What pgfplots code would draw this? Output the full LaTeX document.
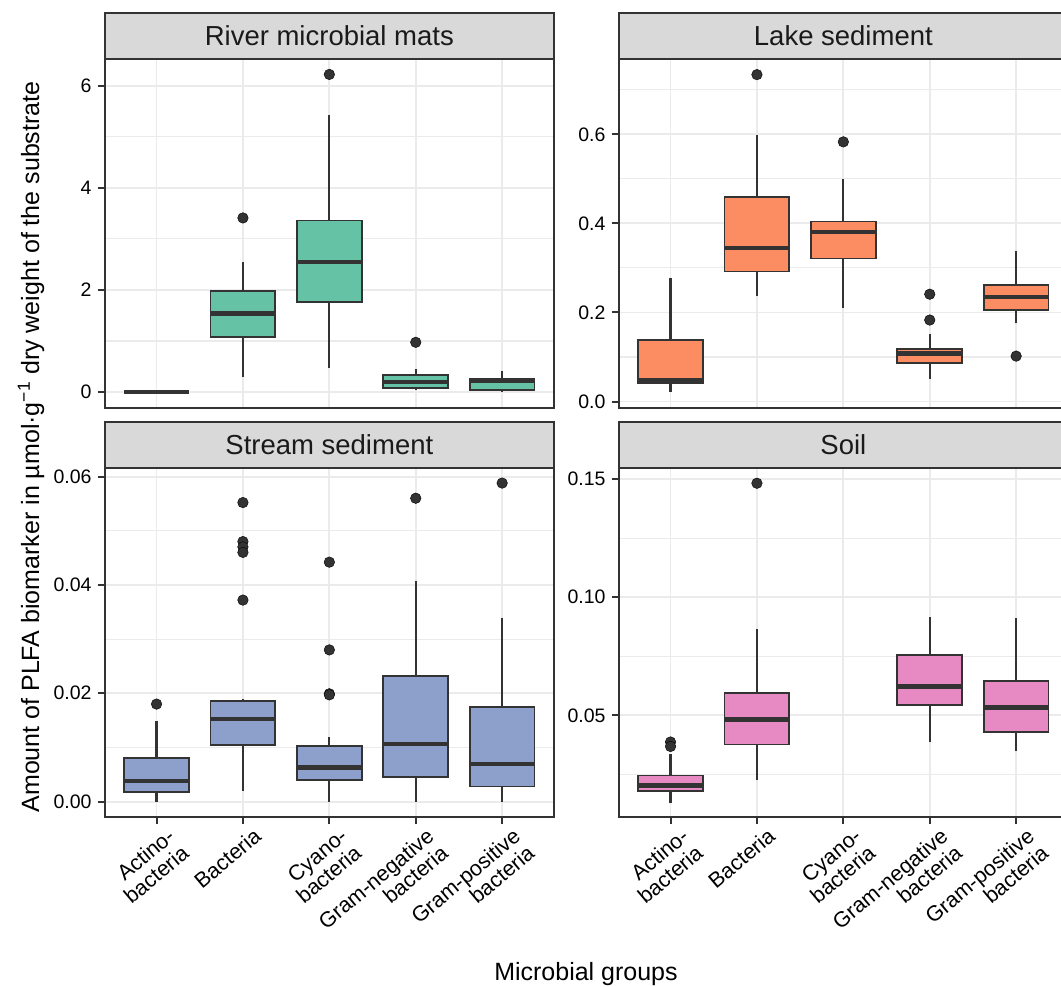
\documentclass[border=0pt]{standalone}
\usepackage{fontspec}
\setmainfont{Liberation Sans}
\usepackage{pgfplots}
\usepackage{pgfplotstable}
\pgfplotsset{compat=1.18}

\definecolor{sgreen}{HTML}{66C2A5}
\definecolor{sorange}{HTML}{FC8D62}
\definecolor{sblue}{HTML}{8DA0CB}
\definecolor{spink}{HTML}{E78AC3}
\definecolor{grey20}{HTML}{333333}
\definecolor{grey10}{HTML}{1A1A1A}
\definecolor{grey85}{HTML}{D9D9D9}
\definecolor{grey92}{HTML}{EBEBEB}

% box statistics: lower whisker, lower quartile, median, upper quartile, upper whisker
\pgfplotstableread{
pos lw lq med uq uw
1 0 0 0 0 0
2 0.29 1.08 1.54 1.98 2.54
3 0.47 1.77 2.54 3.36 5.42
4 0.045 0.078 0.195 0.34 0.455
5 0 0.045 0.225 0.254 0.41
}\river
\pgfplotstableread{
x y
2 3.41
3 6.22
4 0.975
}\riverout

\pgfplotstableread{
pos lw lq med uq uw
1 0.021 0.042 0.049 0.139 0.277
2 0.236 0.292 0.345 0.460 0.599
3 0.211 0.321 0.380 0.404 0.500
4 0.051 0.087 0.108 0.118 0.152
5 0.176 0.205 0.235 0.262 0.338
}\lake
\pgfplotstableread{
x y
2 0.734
3 0.583
4 0.241
4 0.183
5 0.102
}\lakeout

\pgfplotstableread{
pos lw lq med uq uw
1 0 0.0018 0.0038 0.0080 0.0148
2 0.0020 0.0104 0.0152 0.0185 0.0189
3 0 0.0040 0.0063 0.0102 0.0120
4 0 0.0046 0.0106 0.0232 0.0407
5 0 0.0028 0.0069 0.0174 0.0339
}\stream
\pgfplotstableread{
x y
1 0.0180
2 0.0552
2 0.0480
2 0.0470
2 0.0460
2 0.0372
3 0.0442
3 0.0280
3 0.0199
3 0.0197
4 0.0560
5 0.0588
}\streamout

\pgfplotstableread{
pos lw lq med uq uw
1 0.0128 0.0178 0.0203 0.0245 0.0337
2 0.0227 0.0376 0.0482 0.0596 0.0865
4 0.0387 0.0542 0.0622 0.0757 0.0917
5 0.0349 0.0429 0.0533 0.0644 0.0914
}\soil
\pgfplotstableread{
x y
1 0.0387
1 0.0368
2 0.1483
}\soilout

% table, row, colour : whiskers, box (width 0.75), median
\newcommand{\bxp}[3]{%
  \pgfplotstablegetelem{#2}{pos}\of{#1}\let\vpos\pgfplotsretval
  \pgfplotstablegetelem{#2}{lw}\of{#1}\let\vlw\pgfplotsretval
  \pgfplotstablegetelem{#2}{lq}\of{#1}\let\vlq\pgfplotsretval
  \pgfplotstablegetelem{#2}{med}\of{#1}\let\vmed\pgfplotsretval
  \pgfplotstablegetelem{#2}{uq}\of{#1}\let\vuq\pgfplotsretval
  \pgfplotstablegetelem{#2}{uw}\of{#1}\let\vuw\pgfplotsretval
  \pgfmathsetmacro\vxl{\vpos-0.375}%
  \pgfmathsetmacro\vxr{\vpos+0.375}%
  \edef\tmpplot{%
    \noexpand\addplot[draw=grey20, line width=2.2pt]
      coordinates {(\vpos,\vlw) (\vpos,\vlq)};
    \noexpand\addplot[draw=grey20, line width=2.2pt]
      coordinates {(\vpos,\vuq) (\vpos,\vuw)};
    \noexpand\addplot[fill=#3, draw=grey20, line width=1.8pt]
      coordinates {(\vxl,\vlq) (\vxr,\vlq) (\vxr,\vuq) (\vxl,\vuq)} -- cycle;
    \noexpand\addplot[draw=grey20, line width=4.2pt]
      coordinates {(\vxl,\vmed) (\vxr,\vmed)};
  }%
  \tmpplot}
\newcommand{\outl}[1]{%
  \addplot[only marks, mark=*, mark size=5.3pt,
    mark options={draw=none, fill=grey20}] table[x=x, y=y] {#1};}

\pgfplotsset{
  panel/.style={
    scale only axis, width=449.3pt, height=349.4pt,
    anchor=south west,
    xmin=0.4, xmax=5.6, enlargelimits=false,
    xtick={1,2,3,4,5},
    tick pos=left, tick align=outside,
    major tick length=7pt, minor tick length=0pt,
    tick style={line width=2pt, color=grey20},
    axis line style={line width=2pt, color=grey20},
    xmajorgrids, ymajorgrids, yminorgrids,
    major grid style={draw=grey92, line width=1.9pt},
    minor grid style={draw=grey92, line width=1.1pt},
    scaled y ticks=false,
    /pgf/number format/assume math mode=true,
    yticklabel style={font=\fontsize{19.5}{22}\selectfont, color=black,
      inner sep=0pt, xshift=-6pt},
    xticklabel style={font=\fontsize{21.5}{22}\selectfont, color=black,
      rotate=40, anchor=north east, align=right, inner sep=0pt,
      xshift=5.8pt, yshift=-8pt},
  },
  toppanel/.style={panel, xticklabels={}, xtick style={draw=none}},
  botpanel/.style={panel,
    xticklabels={{Actino-\\bacteria},{Bacteria},{Cyano-\\bacteria},
      {Gram-negative\\bacteria},{Gram-positive\\bacteria}}},
}

\newcommand{\strip}[2]{%
  \draw[fill=grey85, draw=grey20, line width=2pt]
    (#1.north west) rectangle ([yshift=46pt]#1.north east);
  \node[font=\fontsize{27.5}{30}\selectfont, color=grey10]
    at ([yshift=23pt]#1.north) {#2};}

\begin{document}
\begin{tikzpicture}
\path[use as bounding box] (0,0) rectangle (1061pt,987pt);

% River microbial mats
\begin{axis}[toppanel, name=p1, at={(104.7pt,579pt)},
  ymin=-0.311, ymax=6.53, ytick={0,2,4,6}, minor ytick={1,3,5}]
  \bxp{\river}{0}{sgreen}
  \bxp{\river}{1}{sgreen}
  \bxp{\river}{2}{sgreen}
  \bxp{\river}{3}{sgreen}
  \bxp{\river}{4}{sgreen}
  \outl{\riverout}
\end{axis}

% Lake sediment
\begin{axis}[toppanel, name=p2, at={(618.7pt,579pt)},
  ymin=-0.0145, ymax=0.770, ytick={0,0.2,0.4,0.6}, minor ytick={0.1,0.3,0.5,0.7},
  yticklabel style={/pgf/number format/.cd, fixed, fixed zerofill, precision=1}]
  \bxp{\lake}{0}{sorange}
  \bxp{\lake}{1}{sorange}
  \bxp{\lake}{2}{sorange}
  \bxp{\lake}{3}{sorange}
  \bxp{\lake}{4}{sorange}
  \outl{\lakeout}
\end{axis}

% Stream sediment
\begin{axis}[botpanel, name=p3, at={(104.7pt,169.7pt)},
  ymin=-0.0029, ymax=0.0616, ytick={0,0.02,0.04,0.06}, minor ytick={0.01,0.03,0.05},
  yticklabel style={/pgf/number format/.cd, fixed, fixed zerofill, precision=2}]
  \bxp{\stream}{0}{sblue}
  \bxp{\stream}{1}{sblue}
  \bxp{\stream}{2}{sblue}
  \bxp{\stream}{3}{sblue}
  \bxp{\stream}{4}{sblue}
  \outl{\streamout}
\end{axis}

% Soil
\begin{axis}[botpanel, name=p4, at={(618.7pt,169.7pt)},
  ymin=0.0068, ymax=0.1548, ytick={0.05,0.10,0.15}, minor ytick={0.025,0.075,0.125},
  yticklabel style={/pgf/number format/.cd, fixed, fixed zerofill, precision=2}]
  \bxp{\soil}{0}{spink}
  \bxp{\soil}{1}{spink}
  \bxp{\soil}{2}{spink}
  \bxp{\soil}{3}{spink}
  \outl{\soilout}
\end{axis}

\strip{p1}{River microbial mats}
\strip{p2}{Lake sediment}
\strip{p3}{Stream sediment}
\strip{p4}{Soil}

\node[rotate=90, anchor=base, font=\fontsize{25}{28}\selectfont, color=black]
  at (39pt,540pt) {Amount of PLFA biomarker in µmol·g\textsuperscript{−1} dry weight of the substrate};
\node[anchor=base, font=\fontsize{25}{28}\selectfont, color=black]
  at (586pt,6.3pt) {Microbial groups};
\end{tikzpicture}
\end{document}
